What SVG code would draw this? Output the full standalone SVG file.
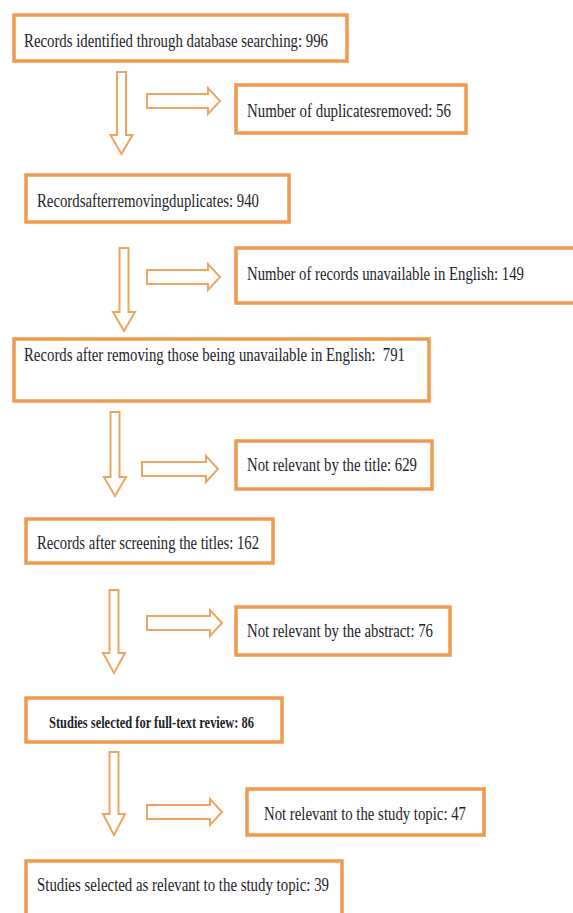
<svg xmlns="http://www.w3.org/2000/svg" width="573" height="913" viewBox="0 0 573 913">
<style>
.box{fill:#fff;stroke:#EF9A4C;stroke-width:3.5}
.arr{fill:#fff;stroke:#F0A55E;stroke-width:2;stroke-linejoin:miter}
.t{font-family:"Liberation Serif","Times New Roman",serif;font-size:18px;fill:#1e1e2a}
.b{font-weight:bold;font-size:17px}
</style>
<rect width="573" height="913" fill="#fff"/>
<g id="connectors">
<path class="arr" d="M117,72 H126 V135 H132.5 L121.5,154 L110.5,135 H117 Z"/>
<path class="arr" d="M147,94 H208 V88 L220,101 L208,114 V108 H147 Z"/>
<path class="arr" d="M119.5,248 H128.5 V312 H135 L124,331 L113,312 H119.5 Z"/>
<path class="arr" d="M147,270 H208 V264 L220,277 L208,290 V284 H147 Z"/>
<path class="arr" d="M110.5,412 H119.5 V477 H126 L115,496 L104,477 H110.5 Z"/>
<path class="arr" d="M142,462 H206 V456 L218,469 L206,482 V476 H142 Z"/>
<path class="arr" d="M109.5,590 H118.5 V653 H125 L114,673 L103,653 H109.5 Z"/>
<path class="arr" d="M147,616 H210 V610 L222,623 L210,636 V630 H147 Z"/>
<path class="arr" d="M109.5,752 H118.5 V814 H125 L114,835 L103,814 H109.5 Z"/>
<path class="arr" d="M147,805 H210 V799 L222,812 L210,825 V819 H147 Z"/>
</g>
<g id="n1"><rect class="box" x="14" y="15" width="333" height="46"/><text class="t" x="24" y="47" textLength="304" lengthAdjust="spacingAndGlyphs">Records identified through database searching: 996</text></g>
<g id="n2"><rect class="box" x="236" y="85" width="230" height="48"/><text class="t" x="247" y="117" textLength="204" lengthAdjust="spacingAndGlyphs">Number of duplicatesremoved: 56</text></g>
<g id="n3"><rect class="box" x="26" y="175" width="263" height="47"/><text class="t" x="37" y="207" textLength="222" lengthAdjust="spacingAndGlyphs">Recordsafterremovingduplicates: 940</text></g>
<g id="n4"><rect class="box" x="236" y="248" width="345" height="55"/><text class="t" x="247" y="280" textLength="277" lengthAdjust="spacingAndGlyphs">Number of records unavailable in English: 149</text></g>
<g id="n5"><rect class="box" x="14" y="339" width="415" height="62"/><text class="t" x="24" y="361" textLength="381" lengthAdjust="spacingAndGlyphs" xml:space="preserve">Records after removing those being unavailable in English:  791</text></g>
<g id="n6"><rect class="box" x="236" y="441" width="196" height="48"/><text class="t" x="247" y="471" textLength="170" lengthAdjust="spacingAndGlyphs">Not relevant by the title: 629</text></g>
<g id="n7"><rect class="box" x="26" y="519" width="247" height="44"/><text class="t" x="37" y="549" textLength="222" lengthAdjust="spacingAndGlyphs">Records after screening the titles: 162</text></g>
<g id="n8"><rect class="box" x="236" y="607" width="214" height="48"/><text class="t" x="247" y="637" textLength="186" lengthAdjust="spacingAndGlyphs">Not relevant by the abstract: 76</text></g>
<g id="n9"><rect class="box" x="26" y="698" width="256" height="44"/><text class="t b" x="49" y="728" textLength="205" lengthAdjust="spacingAndGlyphs">Studies selected for full-text review: 86</text></g>
<g id="n10"><rect class="box" x="247" y="789" width="237" height="46"/><text class="t" x="264" y="820" textLength="202" lengthAdjust="spacingAndGlyphs">Not relevant to the study topic: 47</text></g>
<g id="n11"><rect class="box" x="26" y="861" width="316" height="60"/><text class="t" x="37" y="891" textLength="292" lengthAdjust="spacingAndGlyphs">Studies selected as relevant to the study topic: 39</text></g>
</svg>
